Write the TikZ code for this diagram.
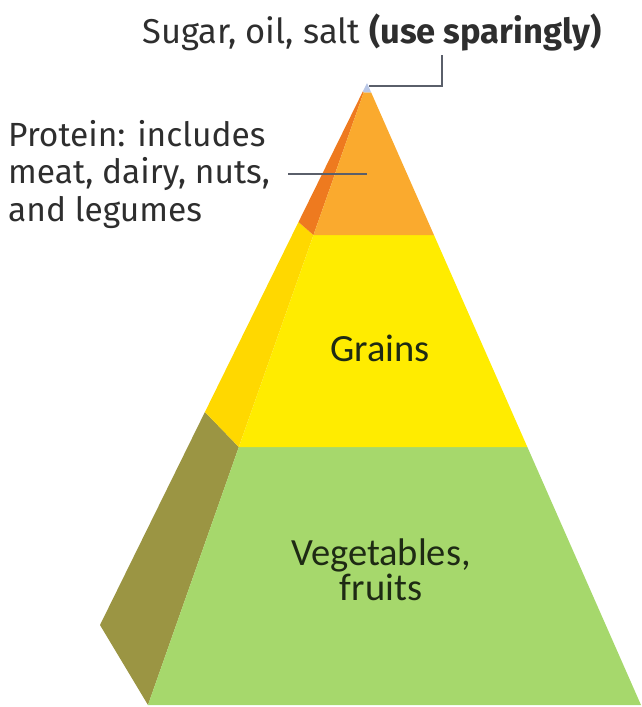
\documentclass[tikz,border=0pt]{standalone}
\usepackage{fontspec}
\setmainfont{Fira Sans}
\newfontfamily\innerfont{Carlito}
\usetikzlibrary{calc}
\definecolor{vegfront}{HTML}{A6D86C}
\definecolor{vegside}{HTML}{9B9543}
\definecolor{grainfront}{HTML}{FFEC00}
\definecolor{grainside}{HTML}{FFD800}
\definecolor{protfront}{HTML}{FAAA2E}
\definecolor{protside}{HTML}{EE7A1F}
\definecolor{tipcol}{HTML}{B9C7E6}
\definecolor{txt}{HTML}{2E2E2E}
\definecolor{intxt}{HTML}{1E2A14}
\definecolor{leader}{HTML}{5A5F6A}
\tikzset{
  outlabel/.style={font=\fontsize{33.5}{37.5}\selectfont, text=txt, inner sep=0pt},
  toplabel/.style={font=\fontsize{34.5}{38}\selectfont, text=txt, inner sep=0pt},
  inlabel/.style={font=\innerfont\fontsize{38.5}{35}\selectfont, text=intxt, inner sep=0pt, align=center},
  leaderline/.style={draw=leader, line width=1.4pt}
}
\begin{document}
\begin{tikzpicture}[x=1pt,y=-1pt]
\useasboundingbox (0,0) rectangle (641,707);
% key points
\coordinate (A) at (367,83);
\coordinate (L) at (148,705);
\coordinate (R) at (641,705);
\coordinate (O) at (100,625);
% front layer edges
\coordinate (L1) at ($(L)!0.4148!(A)$);
\coordinate (R1) at ($(R)!0.4148!(A)$);
\coordinate (L2) at ($(L)!0.7556!(A)$);
\coordinate (R2) at ($(R)!0.7556!(A)$);
\coordinate (L3) at ($(L)!0.985!(A)$);
\coordinate (R3) at ($(R)!0.985!(A)$);
% side outer edge
\coordinate (O1) at ($(O)!0.393!(A)$);
\coordinate (O2) at ($(O)!0.7435!(A)$);
\coordinate (O3) at ($(O)!0.985!(A)$);
% side faces
\fill[vegside] (O) -- (L) -- (L1) -- (O1) -- cycle;
\fill[grainside] (O1) -- (L1) -- (L2) -- (O2) -- cycle;
\fill[protside] (O2) -- (L2) -- (L3) -- (O3) -- cycle;
% front faces
\fill[vegfront] (L) -- (R) -- (R1) -- (L1) -- cycle;
\fill[grainfront] (L1) -- (R1) -- (R2) -- (L2) -- cycle;
\fill[protfront] (L2) -- (R2) -- (R3) -- (L3) -- cycle;
\fill[tipcol] (O3) -- (L3) -- (R3) -- (A) -- cycle;
% labels
\node[toplabel] (sugar) at (372,33) {Sugar, oil, salt \textbf{(use sparingly)}};
\node[outlabel, anchor=west, align=left] (protein) at (8,174) {Protein: includes\\meat, dairy, nuts,\\and legumes};
\node[inlabel] (grains) at (380,348) {Grains};
\node[inlabel] (veg) at (381,570) {Vegetables,\\fruits};
% leaders
\coordinate (sugtop) at (442,55);
\coordinate (sugbend) at (442,86);
\coordinate (sugend) at (369,86);
\draw[leaderline] (sugtop) -- (sugbend) -- (sugend);
\coordinate (protstart) at (288,174);
\coordinate (protend) at (367,174);
\draw[leaderline] (protstart) -- (protend);
\end{tikzpicture}
\end{document}
